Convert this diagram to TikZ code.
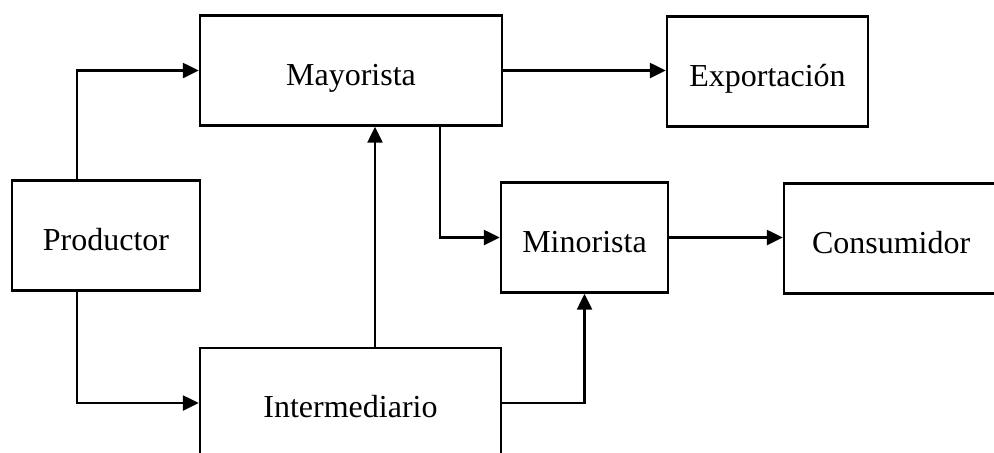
\documentclass[tikz,border=0pt]{standalone}
\usepackage{fontspec}
\setmainfont{Liberation Serif}
\usetikzlibrary{calc}
\usetikzlibrary{arrows.meta}

\tikzset{
  stage/.style={draw,line width=1.2pt,minimum height=55pt,inner sep=0pt,
    text height=14.5pt,text depth=0pt,font=\fontsize{16}{19}\selectfont},
  flow/.style={line width=1.2pt,-{Triangle[length=8pt,width=7.5pt]}}
}

\begin{document}
\begin{tikzpicture}[x=0.5pt,y=-0.5pt]
    \path[use as bounding box] (0,0) rectangle (994,452);
    \clip (0,0) rectangle (994,452);
    % Stages.
    \node[stage,minimum width=151pt] (mayorista) at (351,70.5) {Mayorista};
    \node[stage,minimum width=100.5pt] (exportacion) at (767.5,71.5) {Exportación};
    \node[stage,minimum width=94pt] (productor) at (106,235.5) {Productor};
    \node[stage,minimum width=83.5pt] (minorista) at (584.5,237.5) {Minorista};
    \node[stage,minimum width=113pt,text width=85pt,inner xsep=14pt,align=left]
      (consumidor) at (897,238.5) {Consumidor};
    \node[stage,minimum width=150.5pt] (intermediario) at (350.5,403) {Intermediario};
    % Flows.
    \draw[flow] ($(productor.north)+(-29,0)$) |- (mayorista.west);
    \draw[flow] ($(productor.south)+(-29,0)$) |- (intermediario.west);
    \draw[flow] ($(intermediario.north)+(24.5,0)$) -- ($(mayorista.south)+(24,0)$);
    \draw[flow] (mayorista.east) -- (mayorista.east -| exportacion.west);
    \draw[flow] ($(mayorista.south)+(89,0)$) |- (minorista.west);
    \draw[flow] (minorista.east) -- (minorista.east -| consumidor.west);
    \draw[flow] (intermediario.east) -| (minorista.south);
\end{tikzpicture}
\end{document}
